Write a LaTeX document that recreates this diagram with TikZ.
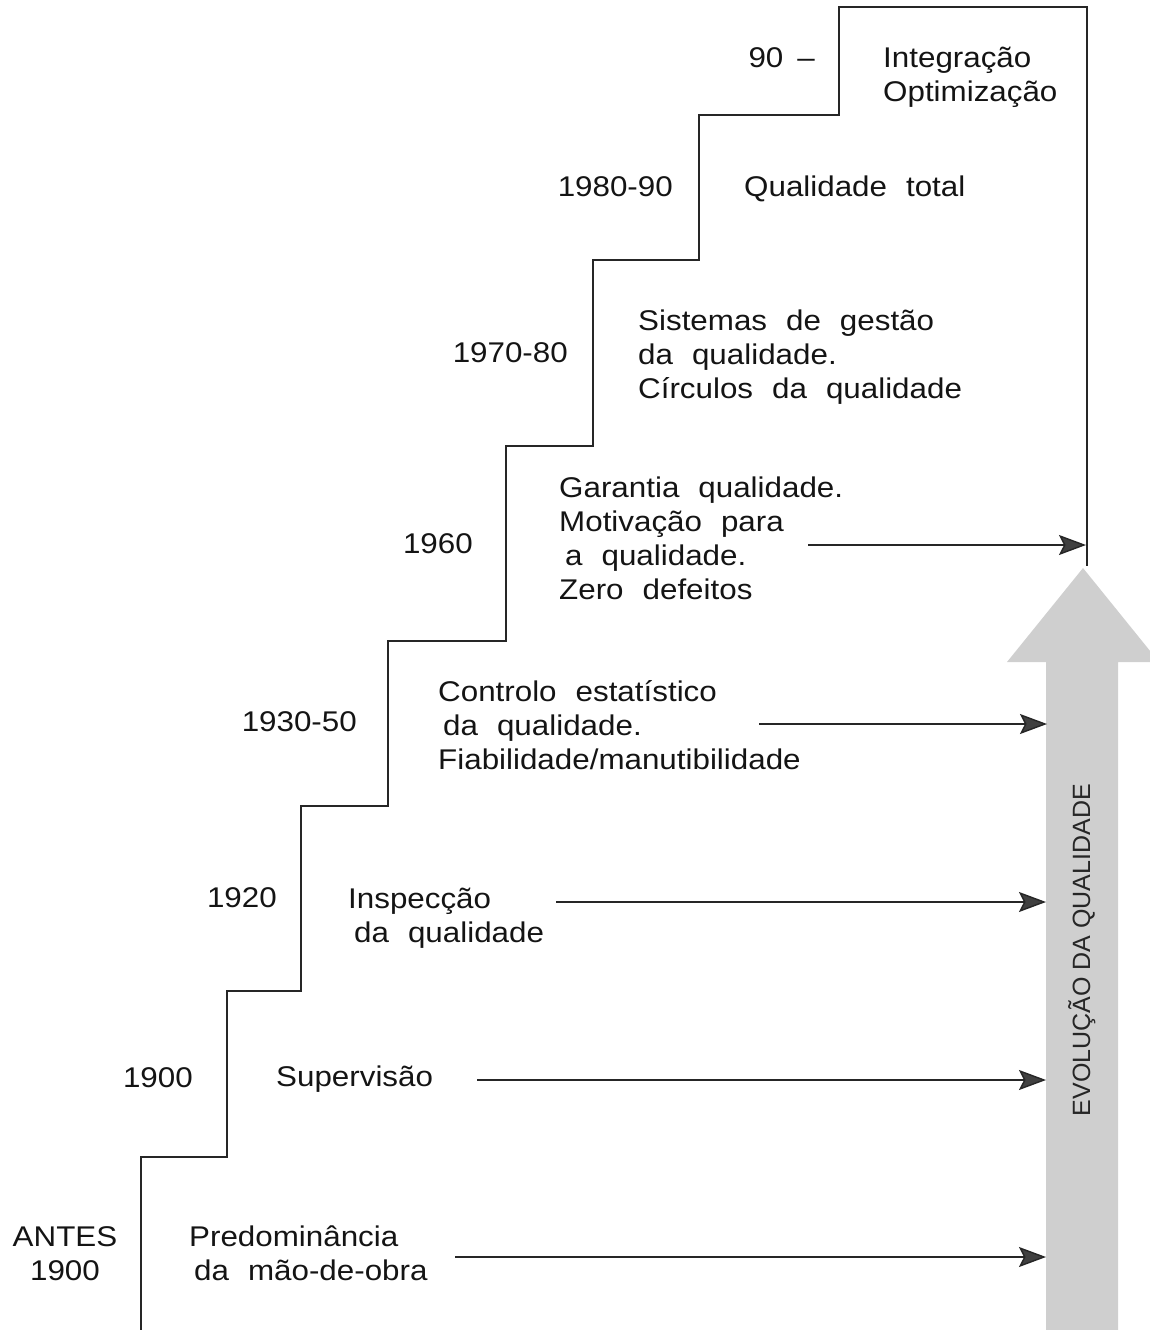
\documentclass[tikz,border=0pt]{standalone}
\usepackage{fontspec}
\setmainfont{Liberation Sans}[FakeStretch=1.1]
\newfontfamily\axisfont{Liberation Sans}
\usetikzlibrary{arrows.meta}

% text of the stages: one size, fixed line pitch and wide word spaces
\newcommand\stagefont{\fontsize{28.5}{34}\selectfont\spaceskip=19pt\relax}
% left-aligned block whose reference point is the first baseline
\newcommand\stagelines[1]{\begin{tabular}[t]{@{}l@{}}#1\end{tabular}}

\tikzset{
  stage/.style={inner sep=0pt, font=\stagefont, text=black!92},
  year/.style={stage, anchor=base east},
  desc/.style={stage, anchor=base west},
  stair/.style={line width=1.6pt, draw=black!85, line join=miter},
  feed/.style={line width=1.4pt, draw=black!85,
    -{Stealth[length=27pt, width=20pt, inset=5pt, fill=black!75]}},
}

\begin{document}
\begin{tikzpicture}[x=1pt, y=-1pt]
\useasboundingbox (0,0) rectangle (1150,1330);
\clip (0,0) rectangle (1150,1330);

% broad arrow of the rising quality
\fill[black!19] (1046,1340) -- (1046,662) -- (1007,662) -- (1083,568)
  -- (1159,662) -- (1118,662) -- (1118,1340) -- cycle;
\node[rotate=90, anchor=base, inner sep=0pt, font=\axisfont\fontsize{25}{28}\selectfont,
  text=black!85] (axis) at (1090,950) {EVOLUÇÃO DA QUALIDADE};

% the staircase
\coordinate (s0) at (141,1335);
\coordinate (s1) at (141,1157);
\coordinate (s2) at (227,1157);
\coordinate (s3) at (227,991);
\coordinate (s4) at (301,991);
\coordinate (s5) at (301,806);
\coordinate (s6) at (388,806);
\coordinate (s7) at (388,641);
\coordinate (s8) at (506,641);
\coordinate (s9) at (506,446);
\coordinate (s10) at (593,446);
\coordinate (s11) at (593,260);
\coordinate (s12) at (699,260);
\coordinate (s13) at (699,115);
\coordinate (s14) at (839,115);
\coordinate (s15) at (839,7);
\coordinate (s16) at (1087,7);
\coordinate (s17) at (1087,566);
\draw[stair] (s0) -- (s1) -- (s2) -- (s3) -- (s4) -- (s5) -- (s6) -- (s7)
  -- (s8) -- (s9) -- (s10) -- (s11) -- (s12) -- (s13) -- (s14) -- (s15)
  -- (s16) -- (s17);

% periods
\node[year] (y90) at (815,67) {90\hspace{14pt}–};
\node[year] (y8090) at (673,196) {1980-90};
\node[year] (y7080) at (568,362) {1970-80};
\node[year] (y60) at (473,553) {1960};
\node[year] (y3050) at (357,731) {1930-50};
\node[year] (y20) at (277,907) {1920};
\node[year] (y00) at (193,1087) {1900};
\node[stage, anchor=base] (yant) at (65,1246)
  {\begin{tabular}[t]{@{}c@{}}ANTES\\1900\end{tabular}};

% what characterised each period
\node[desc] (d90) at (883,67) {\stagelines{Integração\\Optimização}};
\node[desc] (d8090) at (744,196) {Qualidade total};
\node[desc] (d7080) at (638,330) {\stagelines{Sistemas de gestão\\
  da qualidade.\\Círculos da qualidade}};
\node[desc] (d60) at (559,497) {\stagelines{Garantia qualidade.\\Motivação para\\
  \hspace{6pt}a qualidade.\\Zero defeitos}};
\node[desc] (d3050) at (438,701) {\stagelines{Controlo estatístico\\
  \hspace{5pt}da qualidade.\\Fiabilidade/manutibilidade}};
\node[desc] (d20) at (348,908) {\stagelines{Inspecção\\\hspace{6pt}da qualidade}};
\node[desc] (d00) at (276,1086) {Supervisão};
\node[desc] (dant) at (189,1246) {\stagelines{Predominância\\\hspace{5pt}da mão-de-obra}};

% arrows feeding the broad arrow
\coordinate (f60a) at (808,545);   \coordinate (f60b) at (1086,545);
\coordinate (f3050a) at (759,724); \coordinate (f3050b) at (1047,724);
\coordinate (f20a) at (556,902);   \coordinate (f20b) at (1046,902);
\coordinate (f00a) at (477,1080);  \coordinate (f00b) at (1046,1080);
\coordinate (fanta) at (455,1257); \coordinate (fantb) at (1046,1257);
\draw[feed] (f60a) -- (f60b);
\draw[feed] (f3050a) -- (f3050b);
\draw[feed] (f20a) -- (f20b);
\draw[feed] (f00a) -- (f00b);
\draw[feed] (fanta) -- (fantb);
\end{tikzpicture}
\end{document}
